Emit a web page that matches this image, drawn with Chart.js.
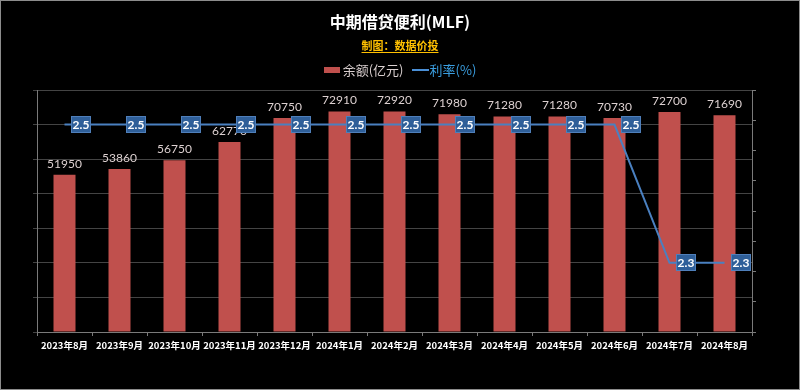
<!DOCTYPE html>
<html>
<head>
<meta charset="utf-8">
<script src="https://cdn.jsdelivr.net/npm/chart.js@4/dist/chart.umd.min.js"></script>
<style>
  html, body { margin:0; padding:0; background:#000; }
  #wrap { position:relative; width:800px; height:390px; background:#000; overflow:hidden; }
  canvas { position:absolute; left:0; top:0; }
  .t { position:absolute; left:0; width:800px; text-align:center; font-family:"Noto Sans CJK SC", sans-serif; }
  #title { top:9px; font-size:16px; font-weight:bold; color:#fff; line-height:24px; }
  #sub { top:37px; font-size:11px; font-weight:bold; color:#ffc000; line-height:16px; }
  #sub span { text-decoration:underline; text-underline-offset:2px; }
  #legend { top:61px; line-height:18px; font-size:13px; display:flex; justify-content:center; align-items:center; gap:8px; }
  .li { display:flex; align-items:center; }
  .sw-bar { width:16px; height:6px; background:#c0504d; margin-right:3px; }
  .sw-line { width:17px; height:2px; background:#4a8fd6; margin-right:1px; }
</style>
</head>
<body>
<div id="wrap">
  <canvas id="c" width="800" height="390"></canvas>
  <div class="t" id="title">中期借贷便利(MLF)</div>
  <div class="t" id="sub"><span>制图：数据价投</span></div>
  <div class="t" id="legend"></div>
</div>
<script>
const categories = ["2023年8月","2023年9月","2023年10月","2023年11月","2023年12月","2024年1月","2024年2月","2024年3月","2024年4月","2024年5月","2024年6月","2024年7月","2024年8月"];
const balanceLabel = "余额(亿元)";
const balance = [51950, 53860, 56750, 62770, 70750, 72910, 72920, 71980, 71280, 71280, 70730, 72700, 71690];
const rateLabel = "利率(%)";
const rate = [2.5, 2.5, 2.5, 2.5, 2.5, 2.5, 2.5, 2.5, 2.5, 2.5, 2.5, 2.3, 2.3];
const balanceTicks = { min: 0, max: 80000, step: 10000 };
const rateTicks = { min: 2.2, max: 2.55, step: 0.05 };

// HTML legend from the dataset labels
document.getElementById('legend').innerHTML =
  '<div class="li"><div class="sw-bar"></div><span style="color:#d9cfcf">' + balanceLabel + '</span></div>' +
  '<div class="li"><div class="sw-line"></div><span style="color:#3a9ee0">' + rateLabel + '</span></div>';

const bgPlugin = {
  id: 'bg',
  beforeDraw(chart) {
    const ctx = chart.ctx;
    ctx.save();
    ctx.fillStyle = '#000';
    ctx.fillRect(0, 0, chart.width, chart.height);
    ctx.strokeStyle = '#8c8c8c';
    ctx.lineWidth = 1;
    ctx.strokeRect(0.5, 0.5, chart.width - 1, chart.height - 1);
    ctx.restore();
  },
  afterDatasetDraw(chart, args) {
    const ctx = chart.ctx;
    const meta = args.meta;
    const ds = chart.data.datasets[args.index];
    ctx.save();
    if (meta.type === 'bar') {
      ctx.font = '12px Lato, "Noto Sans CJK SC", sans-serif';
      ctx.fillStyle = '#ddd1d1';
      ctx.textAlign = 'center';
      ctx.textBaseline = 'middle';
      meta.data.forEach((el, i) => {
        ctx.fillText(String(ds.data[i]), el.x, el.y - 11);
      });
    } else if (meta.type === 'line') {
      ctx.font = 'bold 12px Lato, "Noto Sans CJK SC", sans-serif';
      ctx.textAlign = 'center';
      ctx.textBaseline = 'middle';
      meta.data.forEach((el, i) => {
        const w = 20, h = 17;
        const bx = Math.round(el.x + 6), by = Math.round(el.y - h / 2);
        ctx.fillStyle = '#2f5f99';
        ctx.fillRect(bx, by, w, h);
        ctx.strokeStyle = '#4f7fba';
        ctx.lineWidth = 1;
        ctx.strokeRect(bx + 0.5, by + 0.5, w - 1, h - 1);
        ctx.fillStyle = '#ffffff';
        ctx.fillText(ds.data[i].toFixed(1), bx + w / 2, by + h / 2 + 0.5);
      });
    }
    ctx.restore();
  }
};

const tickFont = { family: '"Noto Sans CJK SC", sans-serif', size: 9.5, weight: 'bold' };

new Chart(document.getElementById('c'), {
  data: {
    labels: categories,
    datasets: [
      {
        type: 'bar',
        label: balanceLabel,
        data: balance,
        yAxisID: 'y',
        backgroundColor: '#c0504d',
        borderWidth: 0,
        barPercentage: 0.4,
        categoryPercentage: 1.0,
        order: 2
      },
      {
        type: 'line',
        label: rateLabel,
        data: rate,
        yAxisID: 'y1',
        borderColor: '#4a80c0',
        borderWidth: 2,
        pointRadius: 0,
        tension: 0,
        fill: false,
        order: 1
      }
    ]
  },
  options: {
    responsive: false,
    animation: false,
    devicePixelRatio: 1,
    layout: { padding: { top: 90, left: 0, right: 0, bottom: 0 } },
    plugins: {
      legend: { display: false },
      title: { display: false },
      tooltip: { enabled: false }
    },
    scales: {
      x: {
        type: 'category',
        offset: true,
        grid: { display: true, drawOnChartArea: false, drawTicks: true, tickLength: 4, color: '#7a7a7a', offset: true },
        border: { color: '#7a7a7a' },
        ticks: { color: '#ffffff', font: tickFont, maxRotation: 0, minRotation: 0, autoSkip: false, padding: 4 },
        afterFit: s => { s.height = 58; }
      },
      y: {
        type: 'linear',
        position: 'right',
        min: balanceTicks.min,
        max: balanceTicks.max,
        ticks: { stepSize: balanceTicks.step, display: false },
        grid: { drawOnChartArea: false, drawTicks: true, tickLength: 4, color: '#7a7a7a' },
        border: { color: '#7a7a7a' },
        afterFit: s => { s.width = 48; }
      },
      y1: {
        type: 'linear',
        position: 'left',
        min: rateTicks.min,
        max: rateTicks.max,
        ticks: { stepSize: rateTicks.step, display: false },
        grid: { drawOnChartArea: true, drawTicks: true, tickLength: 4, color: '#444444' },
        border: { color: '#7a7a7a' },
        afterFit: s => { s.width = 37; }
      }
    }
  },
  plugins: [bgPlugin]
});
</script>
</body>
</html>
